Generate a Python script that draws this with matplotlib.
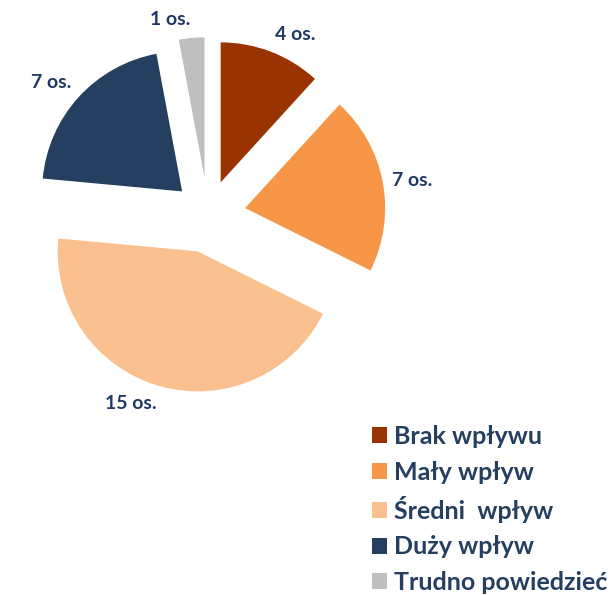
import numpy as np
import matplotlib.pyplot as plt

plt.rcParams['font.family'] = ['Lato', 'DejaVu Sans']

categories = ['Brak wpływu', 'Mały wpływ', 'Średni  wpływ', 'Duży wpływ', 'Trudno powiedzieć']
counts = [4, 7, 15, 7, 1]
colors = ['#993300', '#F79646', '#FAC090', '#243F60', '#BFBFBF']
explode = [0.25, 0.27, 0.27, 0.25, 0.27]

labels = [f'{c} os.' for c in counts]

fig = plt.figure(figsize=(6.1, 5.95), dpi=100)
ax = fig.add_axes([0, 0, 1, 1])

r_px = 140
cx, cy = 208, 215
wedges, _ = ax.pie(counts, colors=colors, explode=explode,
                   startangle=90, counterclock=False)
ax.set_xlim(-cx / r_px, (610 - cx) / r_px)
ax.set_ylim(-(595 - cy) / r_px, cy / r_px)
ax.set_aspect('auto')

# data labels just outside each slice, anchored like Excel "outside end"
for w, lab, ex in zip(wedges, labels, explode):
    ang = np.radians((w.theta1 + w.theta2) / 2)
    c, s = np.cos(ang), np.sin(ang)
    r = 1 + ex + 0.07
    ha = 'left' if c > 0.05 else ('right' if c < -0.05 else 'center')
    va = 'bottom' if s > 0.3 else ('top' if s < -0.3 else 'center')
    ax.text(r * c, r * s, lab, ha=ha, va=va, color='#1F3864',
            fontsize=14, fontweight='bold')

ax.legend(wedges, categories, loc='lower left', bbox_to_anchor=(372 / 610, 1 / 595),
          frameon=False, prop=dict(size=18, weight='bold'), labelcolor='#243F60',
          handlelength=0.6, handleheight=0.6, handletextpad=0.3, labelspacing=0.5,
          borderaxespad=0, borderpad=0)

fig.savefig('out.png', dpi=100)
